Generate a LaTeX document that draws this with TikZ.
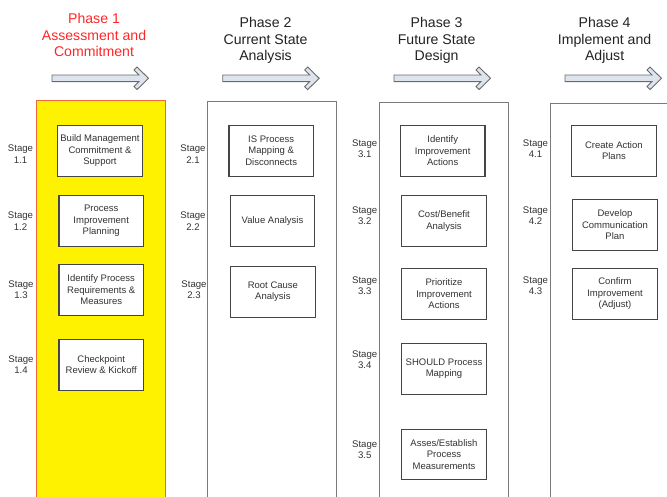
\documentclass[tikz,border=0pt]{standalone}
\usepackage{fontspec}
\setmainfont{Liberation Sans}
\definecolor{colframe}{HTML}{7A7A7A}
\definecolor{boxframe}{HTML}{454545}
\definecolor{phaseonered}{HTML}{FF2626}
\definecolor{phaseoneframe}{HTML}{F4673A}
\definecolor{arrowfill}{HTML}{DDE4EE}
\definecolor{arrowline}{HTML}{6A6A6A}
\definecolor{bodytext}{HTML}{333333}
\definecolor{headtext}{HTML}{222222}
\begin{document}
\begin{tikzpicture}[x=1pt,y=-1pt,
  phasecol/.style={draw=colframe, line width=0.9pt, fill=white, anchor=north west,
    minimum width=129pt, minimum height=420pt, inner sep=0pt},
  stagebox/.style={draw=boxframe, line width=1.1pt, fill=white, minimum width=84.5pt,
    minimum height=50.7pt, inner sep=1pt, align=center, text=bodytext,
    font=\fontsize{9.5}{11.3}\selectfont},
  stagelbl/.style={align=center, inner sep=0pt, text=bodytext,
    font=\fontsize{9.6}{11.3}\selectfont},
  phasehead/.style={align=center, inner sep=0pt, text=headtext,
    font=\fontsize{14.1}{16.7}\selectfont},
  pics/phasearrow/.style={code={
    \draw[fill=arrowfill, draw=arrowline, line width=0.9pt, line join=miter]
      (0,-3.3) -- (87,-3.3) -- (82,-8.3) -- (85,-11.3) -- (96.5,0)
      -- (85,11.3) -- (82,8.3) -- (87,3.3) -- (0,3.3) -- cycle;}}
]
\useasboundingbox (0,0) rectangle (667,496);
\clip (0,0) rectangle (667,496);

% phase columns
\node[phasecol, fill=yellow, draw=phaseoneframe, line width=1.1pt] (col1) at (36,100) {};
\node[phasecol] (col2) at (207,101) {};
\node[phasecol] (col3) at (378.5,101.5) {};
\node[phasecol] (col4) at (549.5,103) {};

% phase headings
\node[phasehead, text=phaseonered] (ph1) at (94,35) {Phase 1\\Assessment and\\Commitment};
\node[phasehead] (ph2) at (265.5,40.5) {Phase 2\\Current State\\Analysis};
\node[phasehead] (ph3) at (436.6,40.5) {Phase 3\\Future State\\Design};
\node[phasehead] (ph4) at (604.6,40.5) {Phase 4\\Implement and\\Adjust};

% phase arrows
\pic at (52,78.3) {phasearrow};
\pic at (222.7,78.3) {phasearrow};
\pic at (394,78.3) {phasearrow};
\pic at (565,78.3) {phasearrow};

% phase 1 stages
\node[stagebox] (b11) at (100,150.7) {Build Management\\Commitment \&\\Support};
\node[stagebox] (b12) at (101.2,220.9) {Process\\Improvement\\Planning};
\node[stagebox] (b13) at (101.2,289.7) {Identify Process\\Requirements \&\\Measures};
\node[stagebox] (b14) at (101.2,364.7) {Checkpoint\\Review \& Kickoff};
\node[stagelbl] (s11) at (20.5,154) {Stage\\1.1};
\node[stagelbl] (s12) at (20.5,221) {Stage\\1.2};
\node[stagelbl] (s13) at (21,290) {Stage\\1.3};
\node[stagelbl] (s14) at (21,364.5) {Stage\\1.4};

% phase 2 stages
\node[stagebox] (b21) at (271.2,150.7) {IS Process\\Mapping \&\\Disconnects};
\node[stagebox] (b22) at (272.5,221) {Value Analysis};
\node[stagebox] (b23) at (272.9,291.9) {Root Cause\\Analysis};
\node[stagelbl] (s21) at (193,154) {Stage\\2.1};
\node[stagelbl] (s22) at (193,221) {Stage\\2.2};
\node[stagelbl] (s23) at (194,290) {Stage\\2.3};

% phase 3 stages
\node[stagebox] (b31) at (442.7,150.7) {Identify\\Improvement\\Actions};
\node[stagebox] (b32) at (444,220.9) {Cost/Benefit\\Analysis};
\node[stagebox] (b33) at (444,293.8) {Prioritize\\Improvement\\Actions};
\node[stagebox] (b34) at (444,368.7) {SHOULD Process\\Mapping};
\node[stagebox] (b35) at (444,454.5) {Asses/Establish\\Process\\Measurements};
\node[stagelbl] (s31) at (364.7,148.7) {Stage\\3.1};
\node[stagelbl] (s32) at (364.7,215.5) {Stage\\3.2};
\node[stagelbl] (s33) at (364.7,286) {Stage\\3.3};
\node[stagelbl] (s34) at (364.7,360) {Stage\\3.4};
\node[stagelbl] (s35) at (364.7,450) {Stage\\3.5};

% phase 4 stages
\node[stagebox] (b41) at (613.9,150.7) {Create Action\\Plans};
\node[stagebox] (b42) at (615,224.7) {Develop\\Communication\\Plan};
\node[stagebox] (b43) at (615,293.8) {Confirm\\Improvement\\(Adjust)};
\node[stagelbl] (s41) at (535.5,148.7) {Stage\\4.1};
\node[stagelbl] (s42) at (535.5,215.5) {Stage\\4.2};
\node[stagelbl] (s43) at (535.5,286) {Stage\\4.3};
\end{tikzpicture}
\end{document}
